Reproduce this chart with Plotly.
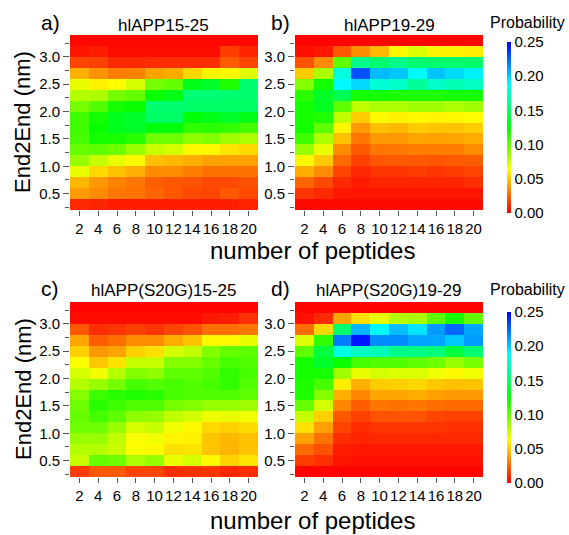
import plotly.graph_objects as go

# ---------------- data ----------------
peptides = [2, 4, 6, 8, 10, 12, 14, 16, 18, 20]
end2end = [3.3, 3.1, 2.9, 2.7, 2.5, 2.3, 2.1, 1.9, 1.7, 1.5, 1.3, 1.1, 0.9, 0.7, 0.5, 0.3]  # rows top -> bottom

titles = ["hlAPP15-25", "hlAPP19-29", "hlAPP(S20G)15-25", "hlAPP(S20G)19-29"]
panel_tags = ["a)", "b)", "c)", "d)"]
cbar_ticks = [0.00, 0.05, 0.10, 0.15, 0.20, 0.25]

z_a = [
    [0.002, 0.002, 0.002, 0.002, 0.002, 0.002, 0.002, 0.002, 0.002, 0.002],
    [0.005, 0.007, 0.003, 0.003, 0.003, 0.003, 0.003, 0.003, 0.015, 0.009],
    [0.017, 0.016, 0.010, 0.010, 0.011, 0.011, 0.011, 0.011, 0.022, 0.017],
    [0.043, 0.036, 0.031, 0.032, 0.040, 0.042, 0.053, 0.060, 0.061, 0.070],
    [0.068, 0.059, 0.062, 0.073, 0.096, 0.100, 0.130, 0.135, 0.118, 0.152],
    [0.081, 0.083, 0.096, 0.100, 0.123, 0.130, 0.154, 0.154, 0.152, 0.152],
    [0.096, 0.105, 0.120, 0.123, 0.152, 0.152, 0.150, 0.150, 0.150, 0.150],
    [0.110, 0.120, 0.132, 0.135, 0.150, 0.150, 0.127, 0.130, 0.135, 0.130],
    [0.110, 0.123, 0.132, 0.135, 0.127, 0.127, 0.113, 0.115, 0.113, 0.108],
    [0.108, 0.120, 0.120, 0.115, 0.098, 0.098, 0.090, 0.093, 0.086, 0.083],
    [0.100, 0.102, 0.098, 0.088, 0.076, 0.073, 0.061, 0.061, 0.056, 0.053],
    [0.088, 0.076, 0.068, 0.061, 0.047, 0.045, 0.043, 0.040, 0.039, 0.039],
    [0.068, 0.053, 0.047, 0.043, 0.034, 0.034, 0.031, 0.028, 0.028, 0.028],
    [0.045, 0.037, 0.032, 0.029, 0.023, 0.021, 0.020, 0.018, 0.018, 0.020],
    [0.038, 0.034, 0.029, 0.028, 0.025, 0.021, 0.018, 0.017, 0.022, 0.018],
    [0.010, 0.009, 0.007, 0.007, 0.007, 0.007, 0.007, 0.007, 0.007, 0.009],
]

z_b = [
    [0.001, 0.001, 0.001, 0.001, 0.001, 0.001, 0.001, 0.001, 0.001, 0.001],
    [0.004, 0.006, 0.021, 0.034, 0.045, 0.061, 0.071, 0.060, 0.059, 0.058],
    [0.020, 0.034, 0.102, 0.159, 0.152, 0.159, 0.152, 0.152, 0.152, 0.150],
    [0.050, 0.083, 0.179, 0.230, 0.204, 0.201, 0.189, 0.202, 0.196, 0.191],
    [0.093, 0.120, 0.189, 0.197, 0.177, 0.174, 0.162, 0.174, 0.169, 0.172],
    [0.115, 0.135, 0.145, 0.120, 0.120, 0.118, 0.118, 0.118, 0.120, 0.120],
    [0.120, 0.132, 0.102, 0.078, 0.083, 0.083, 0.086, 0.086, 0.083, 0.086],
    [0.120, 0.118, 0.078, 0.050, 0.061, 0.059, 0.061, 0.060, 0.061, 0.063],
    [0.120, 0.102, 0.060, 0.037, 0.047, 0.045, 0.050, 0.048, 0.048, 0.050],
    [0.110, 0.083, 0.047, 0.029, 0.037, 0.037, 0.040, 0.039, 0.040, 0.042],
    [0.088, 0.068, 0.034, 0.022, 0.029, 0.029, 0.031, 0.031, 0.031, 0.034],
    [0.061, 0.049, 0.026, 0.016, 0.021, 0.022, 0.022, 0.021, 0.022, 0.023],
    [0.042, 0.034, 0.017, 0.010, 0.013, 0.013, 0.015, 0.013, 0.015, 0.017],
    [0.025, 0.018, 0.010, 0.007, 0.009, 0.009, 0.009, 0.009, 0.009, 0.011],
    [0.013, 0.010, 0.006, 0.005, 0.005, 0.005, 0.005, 0.005, 0.005, 0.005],
    [0.002, 0.002, 0.002, 0.002, 0.002, 0.002, 0.002, 0.002, 0.002, 0.002],
]

z_c = [
    [0.001, 0.001, 0.001, 0.001, 0.001, 0.001, 0.001, 0.001, 0.001, 0.001],
    [0.003, 0.003, 0.003, 0.003, 0.003, 0.003, 0.003, 0.006, 0.007, 0.012],
    [0.021, 0.011, 0.013, 0.016, 0.013, 0.017, 0.020, 0.027, 0.027, 0.029],
    [0.040, 0.023, 0.027, 0.034, 0.034, 0.042, 0.048, 0.061, 0.061, 0.068],
    [0.051, 0.037, 0.040, 0.051, 0.055, 0.073, 0.078, 0.093, 0.100, 0.102],
    [0.063, 0.049, 0.056, 0.076, 0.076, 0.093, 0.093, 0.100, 0.108, 0.105],
    [0.073, 0.066, 0.081, 0.093, 0.090, 0.102, 0.102, 0.105, 0.113, 0.108],
    [0.081, 0.088, 0.096, 0.108, 0.105, 0.108, 0.105, 0.108, 0.113, 0.105],
    [0.093, 0.110, 0.115, 0.118, 0.115, 0.108, 0.105, 0.105, 0.105, 0.102],
    [0.098, 0.115, 0.110, 0.105, 0.105, 0.096, 0.093, 0.088, 0.088, 0.086],
    [0.100, 0.108, 0.102, 0.090, 0.088, 0.078, 0.073, 0.067, 0.068, 0.066],
    [0.098, 0.098, 0.088, 0.073, 0.076, 0.066, 0.061, 0.053, 0.051, 0.054],
    [0.088, 0.088, 0.078, 0.063, 0.066, 0.060, 0.059, 0.048, 0.045, 0.047],
    [0.081, 0.081, 0.076, 0.063, 0.061, 0.055, 0.056, 0.048, 0.044, 0.048],
    [0.076, 0.100, 0.098, 0.083, 0.088, 0.068, 0.073, 0.061, 0.051, 0.056],
    [0.015, 0.022, 0.022, 0.017, 0.017, 0.011, 0.012, 0.013, 0.009, 0.011],
]

z_d = [
    [0.001, 0.001, 0.001, 0.001, 0.001, 0.001, 0.001, 0.001, 0.001, 0.001],
    [0.004, 0.010, 0.040, 0.054, 0.068, 0.081, 0.083, 0.102, 0.120, 0.100],
    [0.027, 0.053, 0.152, 0.206, 0.189, 0.204, 0.194, 0.212, 0.225, 0.209],
    [0.071, 0.113, 0.219, 0.245, 0.216, 0.216, 0.210, 0.209, 0.201, 0.212],
    [0.102, 0.140, 0.181, 0.172, 0.169, 0.159, 0.157, 0.154, 0.140, 0.152],
    [0.120, 0.135, 0.123, 0.108, 0.105, 0.105, 0.102, 0.098, 0.088, 0.096],
    [0.120, 0.120, 0.086, 0.068, 0.073, 0.071, 0.071, 0.066, 0.061, 0.066],
    [0.118, 0.108, 0.058, 0.043, 0.050, 0.051, 0.053, 0.049, 0.047, 0.048],
    [0.118, 0.093, 0.043, 0.033, 0.040, 0.040, 0.042, 0.039, 0.037, 0.037],
    [0.100, 0.073, 0.033, 0.023, 0.029, 0.028, 0.029, 0.027, 0.026, 0.026],
    [0.076, 0.051, 0.021, 0.016, 0.020, 0.020, 0.020, 0.017, 0.016, 0.016],
    [0.055, 0.039, 0.017, 0.011, 0.013, 0.013, 0.013, 0.013, 0.012, 0.012],
    [0.040, 0.028, 0.011, 0.009, 0.010, 0.010, 0.010, 0.010, 0.010, 0.010],
    [0.026, 0.020, 0.007, 0.006, 0.006, 0.006, 0.006, 0.006, 0.006, 0.006],
    [0.015, 0.012, 0.005, 0.004, 0.004, 0.004, 0.004, 0.004, 0.004, 0.004],
    [0.001, 0.001, 0.001, 0.001, 0.001, 0.001, 0.001, 0.001, 0.001, 0.001],
]

# ---------------- figure ----------------
W, H = 569, 535
FONT = "Liberation Sans, Arial, sans-serif"
colorscale = [[0.0, "#FF0000"], [0.25, "#FFFF00"], [0.5, "#00FF00"],
              [0.75, "#00FFFF"], [1.0, "#0000FF"]]

def px_x(p):
    return p / W

def px_y(p):
    return 1 - p / H

# panel boxes in pixels (left, right, top, bottom)
boxes = [(70, 258, 35, 210), (295, 483, 35, 210),
         (70, 258, 302, 477), (295, 483, 302, 477)]
zs = [z_a, z_b, z_c, z_d]

fig = go.Figure()
layout = dict(
    width=W, height=H, margin=dict(l=0, r=0, t=0, b=0),
    paper_bgcolor="white", plot_bgcolor="white",
    font=dict(family=FONT, color="black"),
    showlegend=False,
)

annotations = []
for i, (z, box) in enumerate(zip(zs, boxes)):
    l, r, t, b = box
    xa = "x" if i == 0 else f"x{i+1}"
    ya = "y" if i == 0 else f"y{i+1}"
    show_cb = i in (1, 3)
    cb_top = 42 if i == 1 else 312
    fig.add_trace(go.Heatmap(
        x=peptides, y=end2end, z=z,
        colorscale=colorscale, zmin=0, zmax=0.25,
        xaxis=xa, yaxis=ya,
        showscale=show_cb,
        colorbar=dict(
            x=px_x(507), xanchor="left", xref="paper",
            y=px_y(cb_top), yanchor="top", yref="paper",
            len=171, lenmode="pixels", thickness=4, thicknessmode="pixels",
            outlinewidth=0, ticks="", tickvals=cbar_ticks,
            ticktext=[f"{v:.2f}" for v in cbar_ticks],
            tickfont=dict(size=15, family=FONT), xpad=0, ypad=0,
        ),
    ))
    xkey = "xaxis" if i == 0 else f"xaxis{i+1}"
    ykey = "yaxis" if i == 0 else f"yaxis{i+1}"
    layout[xkey] = dict(
        domain=[px_x(l), px_x(r)], anchor=ya, range=[1, 21],
        tickvals=peptides, ticks="outside", ticklen=5, tickcolor="#555",
        tickfont=dict(size=15), showgrid=False, zeroline=False, showline=False,
    )
    layout[ykey] = dict(
        domain=[px_y(b), px_y(t)], anchor=xa, range=[0.2, 3.4],
        tickvals=[0.5, 1.0, 1.5, 2.0, 2.5, 3.0], tickformat=".1f",
        ticks="outside", ticklen=6, tickcolor="#555",
        minor=dict(tickvals=[0.25, 0.75, 1.25, 1.75, 2.25, 2.75, 3.25],
                   ticks="outside", ticklen=4, tickcolor="#555"),
        tickfont=dict(size=15), showgrid=False, zeroline=False, showline=False,
    )
    cx = (l + r) / 2
    ty = 25 if i < 2 else 290
    annotations.append(dict(x=px_x(cx), y=px_y(ty), xref="paper", yref="paper",
                            text=titles[i], showarrow=False, font=dict(size=17),
                            xanchor="center", yanchor="middle"))
    tagx = 50 if i % 2 == 0 else 280
    annotations.append(dict(x=px_x(tagx), y=px_y(ty - 2), xref="paper", yref="paper",
                            text=panel_tags[i], showarrow=False, font=dict(size=21),
                            xanchor="center", yanchor="middle"))

for yy in (23, 289):
    annotations.append(dict(x=px_x(527), y=px_y(yy), xref="paper", yref="paper",
                            text="Probability", showarrow=False, font=dict(size=16),
                            xanchor="center", yanchor="middle"))
for yy in (122, 389):
    annotations.append(dict(x=px_x(23), y=px_y(yy), xref="paper", yref="paper",
                            text="End2End (nm)", showarrow=False, font=dict(size=22),
                            textangle=-90, xanchor="center", yanchor="middle"))
for yy in (250, 520):
    annotations.append(dict(x=px_x(312), y=px_y(yy), xref="paper", yref="paper",
                            text="number of peptides", showarrow=False, font=dict(size=24),
                            xanchor="center", yanchor="middle"))

layout["annotations"] = annotations
fig.update_layout(**layout)
fig.write_html("out.html")
